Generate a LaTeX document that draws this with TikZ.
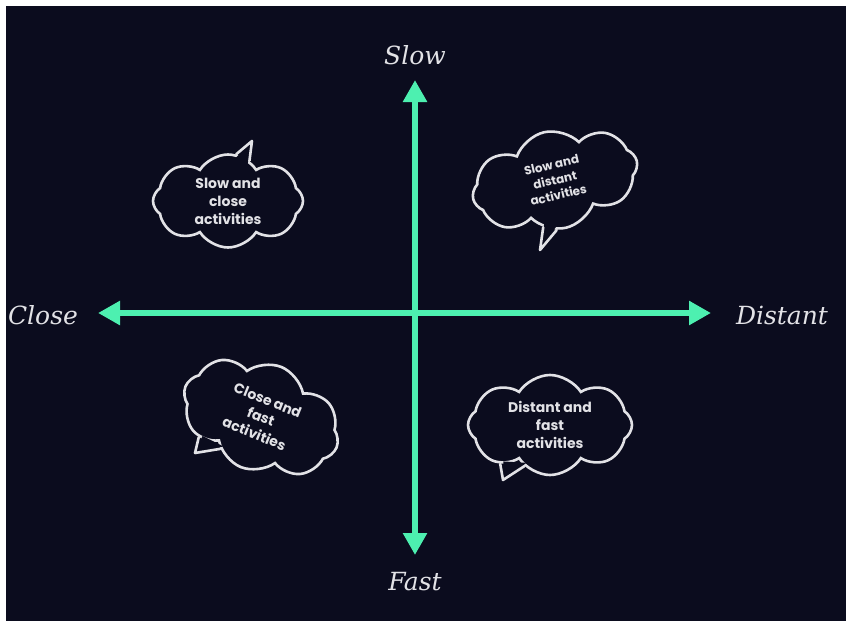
\documentclass[tikz,border=0pt]{standalone}
\usepackage{fontspec}
\setmainfont{DejaVu Serif}
\newfontfamily\cloudfont{Poppins}
\usepackage{tikz}
\usetikzlibrary{arrows.meta, shapes.symbols, calc}
\definecolor{nightbg}{RGB}{11, 12, 30}
\definecolor{mintaxis}{RGB}{77, 240, 176}
\definecolor{chalk}{RGB}{226, 226, 230}

\tikzset{
    axis/.style={mintaxis, line width=5.5pt, <->, >={Triangle[width=23pt, length=22pt]}},
    axislabel/.style={text=chalk, font=\fontsize{25}{30}\selectfont\itshape},
    thought/.style={cloud, cloud puffs=8, cloud puff arc=115, cloud ignores aspect,
        draw=chalk, line width=2.6pt, fill=nightbg, text=chalk, align=center, inner sep=0pt,
        font=\cloudfont\bfseries\fontsize{14}{18}\selectfont},
    tail/.style={draw=chalk, line width=2.6pt, line join=round, line cap=round}
}

\begin{document}
\begin{tikzpicture}[x=1pt, y=-1pt]
    % Canvas
    \useasboundingbox (0,0) rectangle (846,621);
    \fill[white] (0,0) rectangle (846,621);
    \fill[nightbg] (6,6) rectangle (846,621);

    % Axis labels
    \node[axislabel] (slow) at (415,55) {Slow};
    \node[axislabel] (fast) at (415,582) {Fast};
    \node[axislabel] (close) at (43,315) {Close};
    \node[axislabel] (distant) at (782,315) {Distant};

    % Axis ends
    \coordinate (up) at (415,80);
    \coordinate (down) at (415,555);
    \coordinate (left) at (98,313);
    \coordinate (right) at (711,313);

    % The two axes
    \draw[axis] (down) -- (up);
    \draw[axis] (left) -- (right);

    % Thought clouds, one per quadrant
    \node[thought, minimum width=150pt, minimum height=93pt] (slowclose) at (228,201) {Slow and\\close\\activities};
    \node[thought, rotate=13, minimum width=168pt, minimum height=98pt,
        font=\cloudfont\bfseries\fontsize{12}{15.5}\selectfont] (slowdistant) at (555,180) {Slow and\\distant\\activities};
    \node[thought, rotate=-22, minimum width=163pt, minimum height=108pt] (closefast) at (261,417) {Close and\\fast\\activities};
    \node[thought, minimum width=164pt, minimum height=100pt] (distantfast) at (550,425) {Distant and\\fast\\activities};

    % Tail tips
    \coordinate (slowclose-tip) at (252,141);
    \coordinate (slowdistant-tip) at (540,250);
    \coordinate (closefast-tip) at (195,453);
    \coordinate (distantfast-tip) at (503,480);

    % Speech tails
    \foreach \c/\a/\b in {slowclose/62/80, slowdistant/243/259, closefast/220/240, distantfast/218/238} {
        \fill[nightbg] ($(\c.\a)!4pt!(\c.center)$) -- (\c-tip) -- ($(\c.\b)!4pt!(\c.center)$) -- cycle;
        \draw[tail] (\c.\a) -- (\c-tip) -- (\c.\b);
    }
\end{tikzpicture}
\end{document}
